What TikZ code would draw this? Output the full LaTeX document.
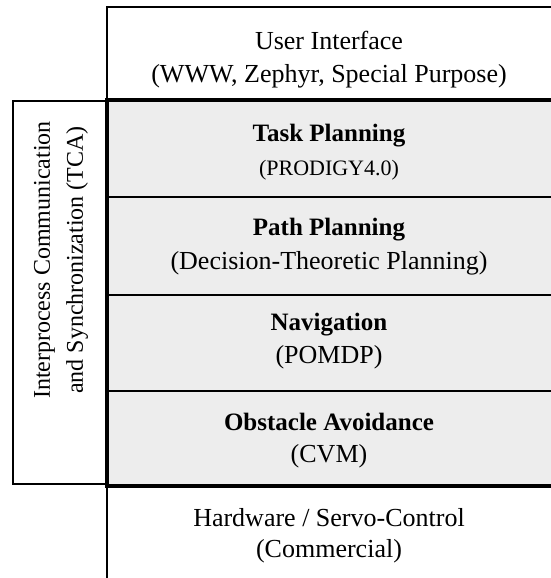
\documentclass[tikz,border=0pt]{standalone}
\usepackage{fontspec}
\setmainfont{Liberation Serif}
\usepackage{tikz}
\usepackage{xcolor}
\usetikzlibrary{positioning}

\definecolor{layergray}{gray}{0.93}

\tikzset{
	thinrule/.style={draw=black, line width={0.55pt}},
	layerrule/.style={draw=black, line width={1.4pt}},
	outerrule/.style={draw=black, line width={1.8pt}},
	plain/.style={font=\fontsize{13}{15}\selectfont, inner sep=0pt},
	heading/.style={font=\fontsize{12.5}{15}\selectfont\bfseries, inner sep=0pt},
	small/.style={font=\fontsize{11}{13}\selectfont, inner sep=0pt},
	sidetext/.style={font=\fontsize{12}{16.5}\selectfont, inner sep=0pt, align=center, rotate=90}
}

\begin{document}
\begin{tikzpicture}[x=0.5pt, y=-0.5pt]
				\useasboundingbox (0,0) rectangle (551,578);
				
				\fill[layergray] (107,100) rectangle (551,486);
				
				\draw[thinrule] (107,578) -- (107,7) -- (551,7);
				\draw[thinrule] (107,101) -- (13,101) -- (13,484) -- (107,484);
				
				\foreach \y in {197, 295, 391}
					\draw[layerrule] (107,\y) -- (551,\y);
				\draw[outerrule] (551,100) -- (107,100) -- (107,486) -- (551,486);
				
				\node[plain] (ui) at (329,40) {User Interface};
				\node[plain] (uisub) at (329,76) {(WWW, Zephyr, Special Purpose)};
				
				\node[heading] (task) at (329,136) {Task Planning};
				\node[small] (tasksub) at (329,170) {(PRODIGY4.0)};
				
				\node[heading] (path) at (329,230) {Path Planning};
				\node[plain] (pathsub) at (329,263) {(Decision-Theoretic Planning)};
				
				\node[heading] (nav) at (329,325) {Navigation};
				\node[plain] (navsub) at (329,357) {(POMDP)};
				
				\node[heading] (obst) at (329,422) {Obstacle Avoidance};
				\node[plain] (obstsub) at (329,456) {(CVM)};
				
				\node[plain] (hw) at (329,518) {Hardware / Servo-Control};
				\node[plain] (hwsub) at (329,551) {(Commercial)};
				
				\node[sidetext] (tca) at (61,260) {Interprocess Communication\\and Synchronization (TCA)};
			\end{tikzpicture}
\end{document}
